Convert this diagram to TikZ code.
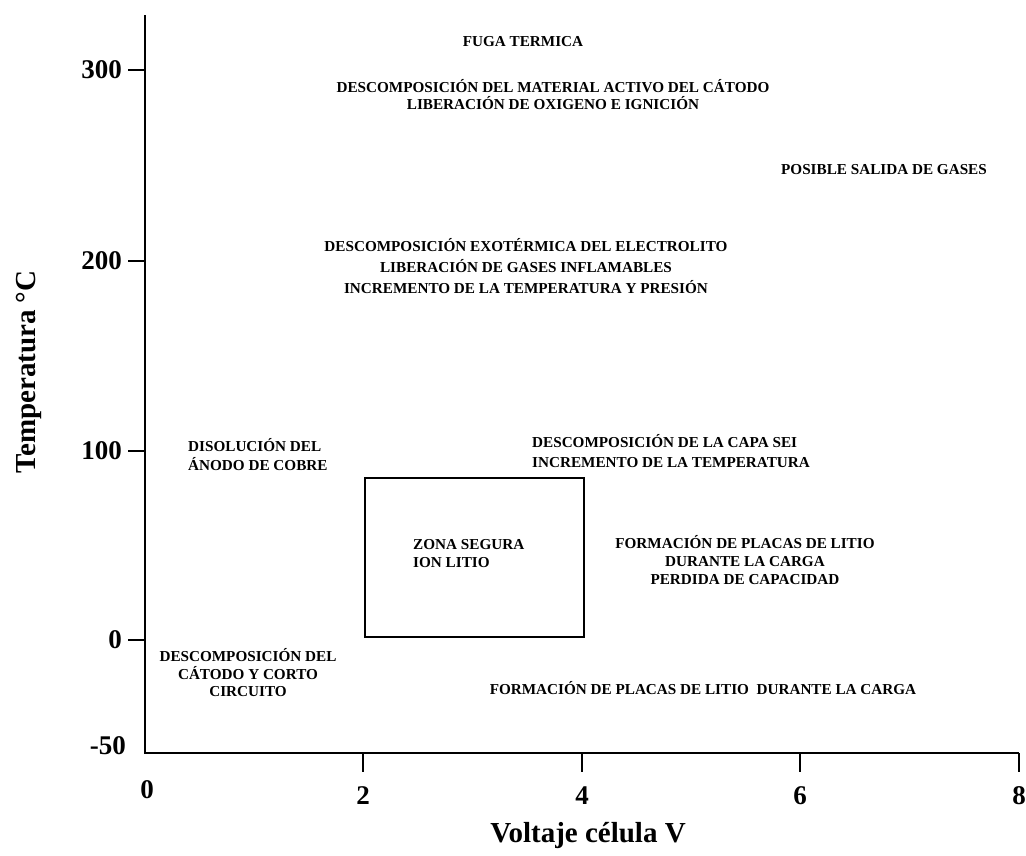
\documentclass[tikz,border=0pt]{standalone}
\usepackage{fontspec}
\setmainfont{Liberation Serif}
\begin{document}
\begin{tikzpicture}[x=1pt,y=-1pt,
  lbl/.style={font=\bfseries\fontsize{15.2}{18}\selectfont, align=center, inner sep=0pt},
  num/.style={font=\bfseries\fontsize{27}{30}\selectfont, inner sep=0pt},
  ttl/.style={font=\bfseries\fontsize{29}{32}\selectfont, inner sep=0pt},
  axisline/.style={line width=2pt},
  tickline/.style={line width=2pt},
  zonebox/.style={line width=1.6pt}]
\useasboundingbox (0,0) rectangle (1026,855);
% axes
\coordinate (ytop) at (145,15);
\coordinate (orig) at (145,753);
\coordinate (xend) at (1019,753);
\draw[axisline] (ytop) -- (orig) -- (xend);
% y ticks and labels
\foreach \yy/\lab in {70/300,261/200,451/100,640/0}{
  \coordinate (yt\lab) at (145,\yy);
  \coordinate (yl\lab) at (128,\yy);
  \draw[tickline] (yt\lab) -- (yl\lab);
  \node[num, anchor=east] (yn\lab) at (122,\yy) {\lab};
}
\node[num, anchor=east] (yn-50) at (126,746) {-50};
% x ticks and labels
\node[num] (xn0) at (147,790) {0};
\foreach \xx/\lab in {363/2,582/4,800/6,1019/8}{
  \coordinate (xt\lab) at (\xx,753);
  \coordinate (xb\lab) at (\xx,772);
  \draw[tickline] (xt\lab) -- (xb\lab);
  \node[num] (xn\lab) at (\xx,796) {\lab};
}
% axis titles
\node[ttl] (xtitle) at (588,835) {Voltaje célula V};
\node[ttl, rotate=90] (ytitle) at (29,372) {Temperatura °C};
% safe zone box
\coordinate (zb1) at (365,478);
\coordinate (zb2) at (584,637);
\draw[zonebox] (zb1) rectangle (zb2);
\node[lbl, align=left, anchor=west] (zona) at (413,554) {ZONA SEGURA\\ION LITIO};
% region labels
\node[lbl] (fuga) at (523,42) {FUGA TERMICA};
\node[lbl, font=\bfseries\fontsize{15.2}{17}\selectfont] (catodoact) at (553,95)
  {DESCOMPOSICIÓN DEL MATERIAL ACTIVO DEL CÁTODO\\LIBERACIÓN DE OXIGENO E IGNICIÓN};
\node[lbl] (gases) at (884,170) {POSIBLE SALIDA DE GASES};
\node[lbl, font=\bfseries\fontsize{15.2}{21}\selectfont] (electrolito) at (526,266)
  {DESCOMPOSICIÓN EXOTÉRMICA DEL ELECTROLITO\\LIBERACIÓN DE GASES INFLAMABLES\\INCREMENTO DE LA TEMPERATURA Y PRESIÓN};
\node[lbl, align=left, anchor=west, font=\bfseries\fontsize{15.2}{19}\selectfont] (disol) at (188,455)
  {DISOLUCIÓN DEL\\ÁNODO DE COBRE};
\node[lbl, align=left, anchor=west, font=\bfseries\fontsize{15.2}{20}\selectfont] (sei) at (532,451)
  {DESCOMPOSICIÓN DE LA CAPA SEI\\INCREMENTO DE LA TEMPERATURA};
\node[lbl] (placas) at (745,560)
  {FORMACIÓN DE PLACAS DE LITIO\\DURANTE LA CARGA\\PERDIDA DE CAPACIDAD};
\node[lbl, font=\bfseries\fontsize{15.2}{17.5}\selectfont] (corto) at (248,673)
  {DESCOMPOSICIÓN DEL\\CÁTODO Y CORTO\\CIRCUITO};
\node[lbl] (placasb) at (703,688) {FORMACIÓN DE PLACAS DE LITIO\ \ DURANTE LA CARGA};
\end{tikzpicture}
\end{document}
